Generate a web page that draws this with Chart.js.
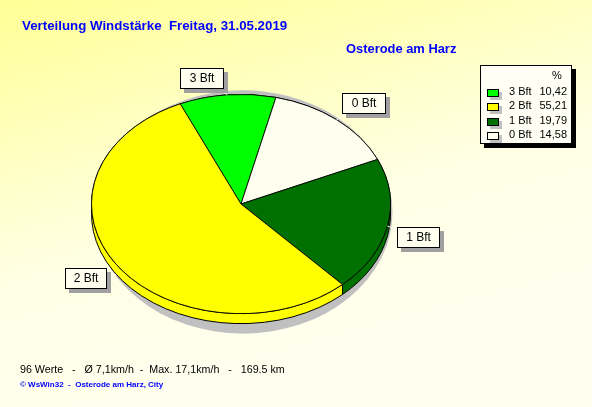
<!DOCTYPE html>
<html><head><meta charset="utf-8">
<script src="https://cdn.jsdelivr.net/npm/chart.js@4.4.1/dist/chart.umd.min.js"></script>
<style>
html,body{margin:0;padding:0;}
body{width:592px;height:407px;position:relative;overflow:hidden;
 background:linear-gradient(165deg,#FFFF96 0%,#FFFFE4 50%,#FFFFF0 80%);
 font-family:"Liberation Sans",Arial,sans-serif;}
#c{position:absolute;left:0;top:0;}
.t{position:absolute;white-space:pre;line-height:1;}
#title{left:22px;top:19px;font-size:13.3px;font-weight:bold;color:#0000FF;}
#sub{left:346px;top:43px;font-size:12.9px;font-weight:bold;color:#0000FF;}
#foot{left:20px;top:364px;font-size:10.7px;color:#000;}
#copy{left:20px;top:381px;font-size:8px;font-weight:bold;color:#0000FF;}
.lbl{position:absolute;box-sizing:border-box;height:21px;border:1px solid #000;background:#FFFFF0;
 box-shadow:4px 4px 0 #A0A0A0;font-size:12px;line-height:19px;text-align:center;color:#000;}
#legend{position:absolute;left:480px;top:65px;width:92px;height:79px;box-sizing:border-box;border:1px solid #000;
 background:#FFFFF5;box-shadow:4px 4px 0 #000;font-size:11px;color:#000;}
#legend .pct{position:absolute;left:71px;top:4px;}
.row{position:absolute;left:0;width:100%;height:13px;}
.sw{position:absolute;left:6px;top:3px;width:12px;height:8px;box-sizing:border-box;border:1px solid #000;box-shadow:3px 3px 0 #C0C0C0;}
.rl{position:absolute;left:28px;top:0;}
.rv{position:absolute;right:4px;top:0;}
</style></head><body>
<canvas id="c" width="592" height="407"></canvas>
<div class="t" id="title">Verteilung Windstärke  Freitag, 31.05.2019</div>
<div class="t" id="sub">Osterode am Harz</div>
<div class="t" id="foot">96 Werte   -   Ø 7,1km/h  -  Max. 17,1km/h   -   169.5 km</div>
<div class="t" id="copy">© WsWin32  -  Osterode am Harz, City</div>
<div id="legend"><div class="t pct">%</div></div>
<script>
// ---- data ----
const labels = ['3 Bft', '0 Bft', '1 Bft', '2 Bft'];
const values = [10.42, 14.58, 19.79, 55.21];
const colors = ['#00FF00', '#FFFFF0', '#007000', '#FFFF00'];
const legendOrder = ['3 Bft', '2 Bft', '1 Bft', '0 Bft'];
const labelBoxes = { // placement of callout boxes
  '3 Bft': [180, 68, 44],
  '0 Bft': [342, 93, 44],
  '1 Bft': [397, 227, 43],
  '2 Bft': [65, 268, 42]
};

const K = 110 / 150, DEPTH = 10;

// legend
const lg = document.getElementById('legend');
legendOrder.forEach((l, j) => {
  const i = labels.indexOf(l);
  const r = document.createElement('div');
  r.className = 'row';
  r.style.top = (20 + j * 14.3) + 'px';
  r.innerHTML = '<div class="sw" style="background:' + colors[i] + '"></div><div class="t rl">' + l +
    '</div><div class="t rv">' + values[i].toFixed(2).replace('.', ',') + '</div>';
  lg.appendChild(r);
});
// callout boxes
labels.forEach(l => {
  const b = labelBoxes[l];
  const d = document.createElement('div');
  d.className = 'lbl';
  d.style.left = b[0] + 'px'; d.style.top = b[1] + 'px'; d.style.width = b[2] + 'px';
  d.textContent = l;
  document.body.appendChild(d);
});

const pie3d = {
  id: 'pie3d',
  beforeDatasetsDraw(chart) {
    const ctx = chart.ctx, arcs = chart.getDatasetMeta(0).data;
    const cx = arcs[0].x, cy = arcs[0].y, R = arcs[0].outerRadius, r2 = R * K;
    ctx.save();
    ctx.fillStyle = '#C0C0C0';
    ctx.beginPath(); ctx.ellipse(cx + 2, cy + 8, R, r2 + 12, 0, 0, Math.PI * 2); ctx.fill();
    ctx.lineWidth = 1; ctx.strokeStyle = '#000';
    arcs.forEach((a, i) => {
      ctx.beginPath();
      ctx.ellipse(cx, cy + DEPTH, R, r2, 0, a.startAngle, a.endAngle);
      ctx.ellipse(cx, cy, R, r2, 0, a.endAngle, a.startAngle, true);
      ctx.closePath();
      ctx.fillStyle = colors[i]; ctx.fill(); ctx.stroke();
    });
    ctx.restore();
    ctx.save();
    ctx.translate(0, cy * (1 - K));
    ctx.scale(1, K);
  },
  afterDatasetsDraw(chart) {
    const ctx = chart.ctx;
    ctx.restore();
    const arcs = chart.getDatasetMeta(0).data;
    const cx = arcs[0].x, cy = arcs[0].y, R = arcs[0].outerRadius, r2 = R * K;
    ctx.save();
    ctx.strokeStyle = '#FFFFFF'; ctx.lineWidth = 1;
    arcs.forEach((a, i) => {
      const m = (a.startAngle + a.endAngle) / 2;
      const px = cx + R * Math.cos(m), py = cy + r2 * Math.sin(m) + (Math.sin(m) > 0.3 ? DEPTH : 0);
      const b = labelBoxes[labels[i]];
      const bx = b[0] + b[2] / 2, by = b[1] + 10;
      ctx.beginPath(); ctx.moveTo(px, py); ctx.lineTo(bx, by); ctx.stroke();
    });
    ctx.restore();
  }
};

new Chart(document.getElementById('c'), {
  type: 'pie',
  data: { labels: labels, datasets: [{ data: values, backgroundColor: colors, borderColor: '#000', borderWidth: 1 }] },
  options: {
    responsive: false, animation: false, events: [],
    rotation: -24,
    layout: { padding: { left: 91, right: 201, top: 54, bottom: 53 } },
    plugins: { legend: { display: false }, tooltip: { enabled: false }, title: { display: false } }
  },
  plugins: [pie3d]
});
</script>
</body></html>
